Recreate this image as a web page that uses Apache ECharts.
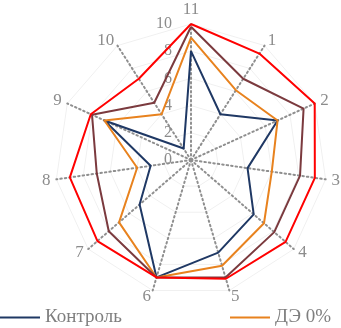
<!DOCTYPE html>
<html><head><meta charset="utf-8">
<script src="https://cdn.jsdelivr.net/npm/echarts@6/dist/echarts.min.js"></script>
<style>html,body{margin:0;padding:0;background:#fff}#c{width:341px;height:328px}</style>
</head><body><div id="c"></div>
<script>
// axis labels, clockwise from top
const categories = ['11','1','2','3','4','5','6','7','8','9','10'];
const tickLabels = [0,2,4,6,8,10];
const seriesNames = ['Контроль','ДЭ 0%','ДЭ 5%','ДЭ 10%'];
const control = [8, 4, 7, 4.2, 6.1, 7.1, 9, 5, 3, 7, 1];
const de0 = [9, 6.1, 7, 6, 7.1, 8.1, 9, 7, 4, 7, 4];
const de5 = [9.8, 7.1, 9.1, 8.1, 8.1, 9, 9, 8, 7, 8, 5];
const de10 = [10, 9.3, 10, 9.2, 9.2, 9.1, 9, 9.1, 9, 8.1, 7.1];
const colors = ['#1F3864','#E8821E','#7B3A3E','#FF0000'];

// ECharts radar runs counter-clockwise: reorder keeping the top axis first
function ccw(arr){ return [arr[0]].concat(arr.slice(1).reverse()); }
const cats = ccw(categories);
const indicator = cats.map((n,i)=>({name:n, max:10, min:0,
  axisLabel: {show: i===0}}));
const all = [control, de0, de5, de10];
const legendText = {color:'#7f7f7f', fontSize:19, fontFamily:'Liberation Serif'};
const chart = echarts.init(document.getElementById('c'));
chart.setOption({
  animation:false,
  textStyle:{fontFamily:'Liberation Serif'},
  legend:[
    {data:[seriesNames[0]], left:0, top:308, padding:0, itemWidth:40, itemHeight:2, icon:'rect', itemGap:5,
     textStyle:legendText},
    {data:[seriesNames[1]], left:230, top:308, padding:0, itemWidth:40, itemHeight:2, icon:'rect',
     textStyle:legendText}
  ],
  radar:{
    center:[191,160], radius:136, startAngle:90, shape:'polygon',
    splitNumber:5,
    indicator: indicator,
    axisName:{color:'#8c8c8c', fontSize:17, fontFamily:'Liberation Serif'},
    nameGap:6,
    axisLine:{lineStyle:{color:'#8f8f8f', type:[1.5,3], width:2}},
    splitLine:{lineStyle:{color:'#f0f0f0', width:1}},
    splitArea:{show:false},
    axisLabel:{color:'#8c8c8c', fontSize:16, fontFamily:'Liberation Serif', margin:19,
      formatter: v => tickLabels.includes(v) ? String(v) : ''}
  },
  series:[{
    type:'radar', symbol:'none',
    data: all.map((d,i)=>({name:seriesNames[i], value: ccw(d),
      lineStyle:{color:colors[i], width:2}, itemStyle:{color:colors[i]}}))
  }]
});
</script></body></html>
